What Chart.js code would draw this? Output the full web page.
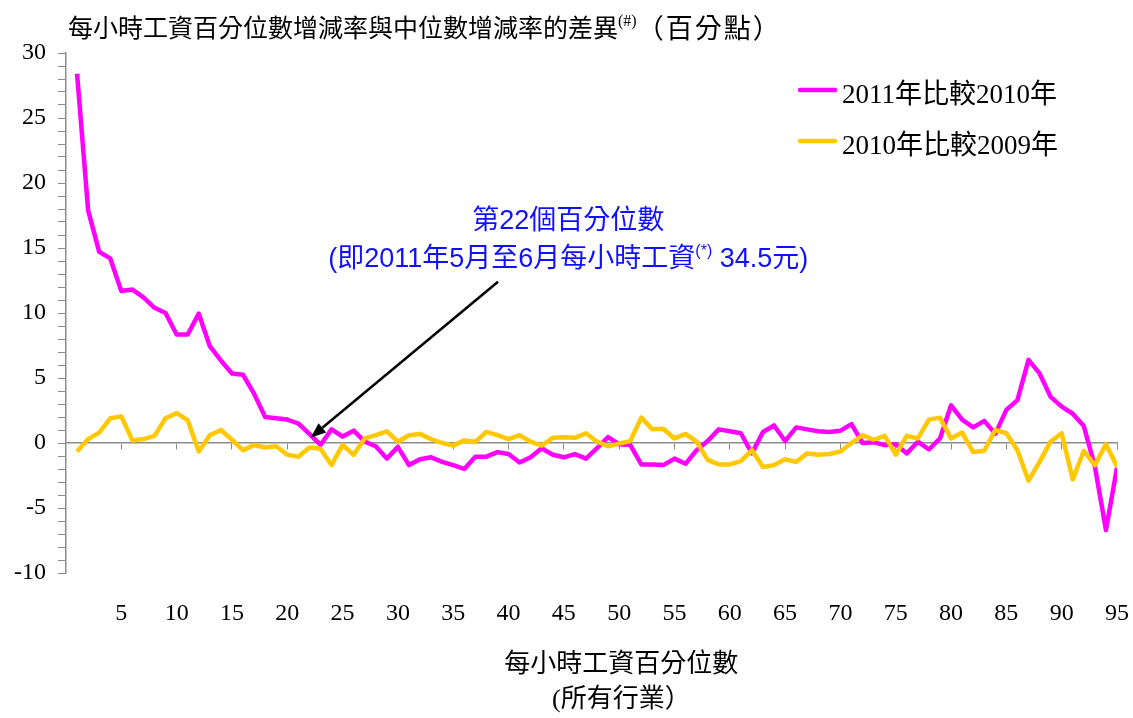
<!DOCTYPE html>
<html>
<head>
<meta charset="utf-8">
<script src="https://cdn.jsdelivr.net/npm/chart.js@4/dist/chart.umd.min.js"></script>
<style>
  html, body { margin: 0; padding: 0; background: #fff; }
  #wrap { width: 1133px; height: 718px; position: relative; }
</style>
</head>
<body>
<div id="wrap"><canvas id="wage-chart"></canvas></div>
<script>
// 百分位數 (x)
var percentiles = [1, 2, 3, 4, 5, 6, 7, 8, 9, 10, 11, 12, 13, 14, 15, 16, 17, 18, 19, 20,
    21, 22, 23, 24, 25, 26, 27, 28, 29, 30, 31, 32, 33, 34, 35, 36, 37, 38, 39, 40,
    41, 42, 43, 44, 45, 46, 47, 48, 49, 50, 51, 52, 53, 54, 55, 56, 57, 58, 59, 60,
    61, 62, 63, 64, 65, 66, 67, 68, 69, 70, 71, 72, 73, 74, 75, 76, 77, 78, 79, 80,
    81, 82, 83, 84, 85, 86, 87, 88, 89, 90, 91, 92, 93, 94, 95];

// 2011年比較2010年
var change2011 = [28.4, 17.9, 14.7, 14.2, 11.7, 11.8, 11.2, 10.4, 10.0, 8.35,
    8.35, 9.95, 7.45, 6.35, 5.35, 5.25, 3.8, 2.0, 1.9, 1.8,
    1.5, 0.7, -0.15, 1.05, 0.5, 0.95, 0.1, -0.25, -1.2, -0.3,
    -1.7, -1.25, -1.1, -1.45, -1.7, -2.0, -1.05, -1.05, -0.7, -0.85,
    -1.5, -1.1, -0.4, -0.9, -1.1, -0.85, -1.2, -0.4, 0.45, -0.1,
    -0.15, -1.65, -1.65, -1.7, -1.2, -1.6, -0.55, 0.15, 1.05, 0.9,
    0.75, -0.8, 0.85, 1.35, 0.15, 1.2, 1.05, 0.9, 0.85, 0.95,
    1.45, 0.0, 0.05, -0.15, -0.1, -0.8, 0.1, -0.5, 0.35, 2.9,
    1.8, 1.2, 1.7, 0.7, 2.55, 3.3, 6.4, 5.35, 3.55, 2.8,
    2.25, 1.3, -1.8, -6.7, -1.9];

// 2010年比較2009年
var change2010 = [-0.65, 0.3, 0.8, 1.9, 2.05, 0.2, 0.3, 0.55, 1.9, 2.3,
    1.75, -0.65, 0.6, 1.0, 0.25, -0.55, -0.15, -0.35, -0.25, -0.9,
    -1.05, -0.35, -0.45, -1.7, -0.15, -0.9, 0.35, 0.6, 0.9, 0.1,
    0.6, 0.7, 0.3, 0.0, -0.2, 0.2, 0.1, 0.85, 0.6, 0.3,
    0.6, 0.1, -0.2, 0.4, 0.45, 0.4, 0.75, 0.1, -0.25, -0.05,
    0.15, 1.95, 1.05, 1.1, 0.35, 0.7, 0.1, -1.3, -1.65, -1.65,
    -1.4, -0.55, -1.85, -1.7, -1.25, -1.45, -0.8, -0.9, -0.85, -0.65,
    0.0, 0.6, 0.25, 0.55, -0.9, 0.55, 0.35, 1.8, 1.95, 0.35,
    0.8, -0.7, -0.6, 1.0, 0.75, -0.55, -2.9, -1.45, 0.1, 0.75,
    -2.8, -0.6, -1.7, -0.1, -1.8];

var seriesLabels = ['2011年比較2010年', '2010年比較2009年'];
var xTicks = [5, 10, 15, 20, 25, 30, 35, 40, 45, 50, 55, 60, 65, 70, 75, 80, 85, 90, 95];

var serif = "'Liberation Serif', 'Noto Sans CJK TC', serif";
var sans = "'Liberation Sans', 'Noto Sans CJK TC', sans-serif";
var axisGrey = '#8c8c8c';

function toPoints(values) {
    return percentiles.map(function (p, i) { return { x: p, y: values[i] }; });
}

// tekst i flere stykker (hævet skrift)
function drawRuns(ctx, runs, x, y, align) {
    var total = 0;
    runs.forEach(function (r) {
        ctx.font = r.font;
        ctx.letterSpacing = r.spacing || '0px';
        r.w = ctx.measureText(r.text).width;
        total += r.w;
    });
    var cx = align === 'center' ? x - total / 2 : x;
    runs.forEach(function (r) {
        ctx.font = r.font;
        ctx.letterSpacing = r.spacing || '0px';
        ctx.fillText(r.text, cx, y + (r.dy || 0));
        cx += r.w;
    });
    ctx.letterSpacing = '0px';
}

var textPlugin = {
    id: 'texts',
    afterDraw: function (chart) {
        var ctx = chart.ctx;
        var area = chart.chartArea;
        var xs = chart.scales.x, ys = chart.scales.y;
        ctx.save();
        ctx.textAlign = 'left';
        ctx.textBaseline = 'alphabetic';
        ctx.fillStyle = '#000';

        // titel
        drawRuns(ctx, [
            { text: '每小時工資百分位數增減率與中位數增減率的差異', font: '25px ' + serif },
            { text: '(#)', font: '16px ' + serif, dy: -11 },
            { text: '（百分點）', font: '27px ' + serif, spacing: '2px', dy: 1 }
        ], area.left + 2, 37);

        // x-aksens titel
        var cx = xs.getPixelForValue(50.2);
        drawRuns(ctx, [{ text: '每小時工資百分位數', font: '26px ' + serif }], cx, 672, 'center');
        drawRuns(ctx, [{ text: '(所有行業）', font: '26px ' + serif }], cx, 707, 'center');

        // legend
        chart.data.datasets.forEach(function (ds, i) {
            var ly = area.top + 37 + i * 51;
            ctx.strokeStyle = ds.borderColor;
            ctx.lineWidth = 4.5;
            ctx.lineCap = 'round';
            ctx.beginPath();
            ctx.moveTo(area.right - 317, ly);
            ctx.lineTo(area.right - 282, ly);
            ctx.stroke();
            ctx.fillStyle = '#000';
            drawRuns(ctx, [{ text: ds.label, font: '27px ' + serif }], area.right - 275, ly + 13);
        });

        // annotation
        ctx.fillStyle = '#1010ff';
        var ax = xs.getPixelForValue(45.4);
        drawRuns(ctx, [{ text: '第22個百分位數', font: '27px ' + sans }], ax, ys.getPixelForValue(17.25) + 10, 'center');
        drawRuns(ctx, [
            { text: '(即2011年5月至6月每小時工資', font: '27px ' + sans },
            { text: '(*)', font: '16px ' + sans, dy: -11 },
            { text: ' 34.5元)', font: '27px ' + sans }
        ], ax, ys.getPixelForValue(14.33) + 10, 'center');

        // pil
        var x1 = xs.getPixelForValue(39.05), y1 = ys.getPixelForValue(12.4);
        var x2 = xs.getPixelForValue(22.13), y2 = ys.getPixelForValue(0.43);
        var ang = Math.atan2(y2 - y1, x2 - x1);
        var head = 15, half = 6;
        var bx = x2 - head * Math.cos(ang), by = y2 - head * Math.sin(ang);
        ctx.strokeStyle = '#000';
        ctx.fillStyle = '#000';
        ctx.lineWidth = 2.5;
        ctx.lineCap = 'butt';
        ctx.beginPath();
        ctx.moveTo(x1, y1);
        ctx.lineTo(bx, by);
        ctx.stroke();
        ctx.beginPath();
        ctx.moveTo(x2, y2);
        ctx.lineTo(bx + half * Math.sin(ang), by - half * Math.cos(ang));
        ctx.lineTo(bx - half * Math.sin(ang), by + half * Math.cos(ang));
        ctx.closePath();
        ctx.fill();
        ctx.restore();
    }
};

var data = {
    datasets: [
        {
            label: seriesLabels[0],
            data: toPoints(change2011),
            borderColor: '#ff00ff',
            borderWidth: 4.5,
            pointRadius: 0,
            borderJoinStyle: 'round',
            fill: false,
            order: 1
        },
        {
            label: seriesLabels[1],
            data: toPoints(change2010),
            borderColor: '#ffc800',
            borderWidth: 4.5,
            pointRadius: 0,
            borderJoinStyle: 'round',
            fill: false,
            order: 0
        }
    ]
};

var options = {
    responsive: true,
    maintainAspectRatio: false,
    animation: false,
    devicePixelRatio: 1,
    layout: { padding: { left: 14, top: 53, right: 16, bottom: 85 } },
    plugins: {
        legend: { display: false },
        tooltip: { enabled: false }
    },
    scales: {
        x: {
            type: 'linear',
            position: 'bottom',
            min: 0,
            max: 95,
            afterBuildTicks: function (s) { s.ticks = xTicks.map(function (v) { return { value: v }; }); },
            afterFit: function (s) { s.height = 60; },
            // usynlige tick-streger giver afstanden ned til tallene
            grid: { display: true, drawOnChartArea: false, drawTicks: true, tickLength: 24, color: 'rgba(0,0,0,0)' },
            border: { display: false },
            ticks: {
                autoSkip: false,
                maxRotation: 0,
                padding: 2,
                color: '#000',
                font: { family: serif, size: 24 }
            }
        },
        x0: {
            type: 'linear',
            axis: 'x',
            position: { y: 0 },
            min: 0,
            max: 95,
            afterBuildTicks: function (s) { s.ticks = xTicks.map(function (v) { return { value: v }; }); },
            grid: { drawOnChartArea: false, drawTicks: true, tickLength: 6, color: axisGrey, lineWidth: 1 },
            border: { display: true, color: axisGrey, width: 1.5 },
            ticks: { display: false }
        },
        y: {
            type: 'linear',
            min: -10,
            max: 30,
            afterFit: function (s) { s.width = 52; },
            grid: { drawOnChartArea: false, drawTicks: true, tickLength: 8, color: axisGrey, lineWidth: 1 },
            border: { display: true, color: axisGrey, width: 1.5 },
            ticks: {
                stepSize: 1,
                autoSkip: false,
                padding: 12,
                color: '#000',
                font: { family: serif, size: 24 },
                callback: function (v) { return v % 5 === 0 ? String(v) : ''; }
            }
        }
    }
};

var ctx = document.getElementById('wage-chart').getContext('2d');
var wageChart = new Chart(ctx, {
    type: 'line',
    data: data,
    options: options,
    plugins: [textPlugin]
});
</script>
</body>
</html>
